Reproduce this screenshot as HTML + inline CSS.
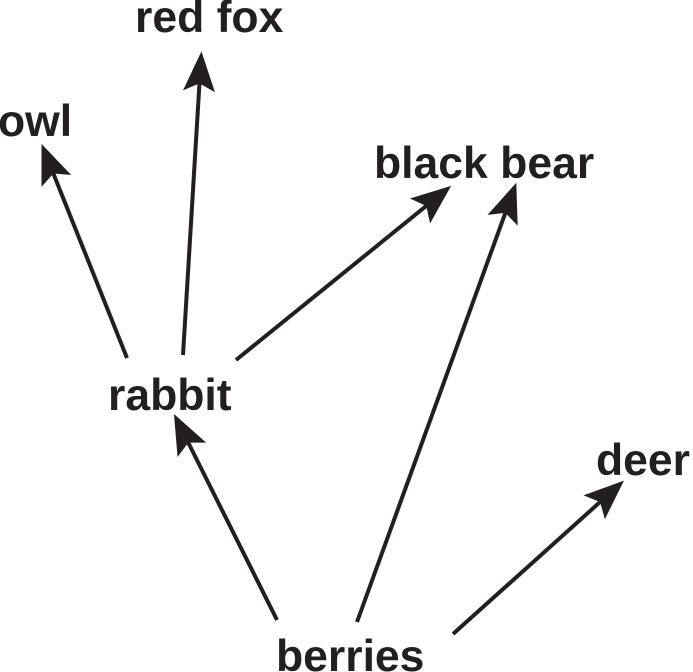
<!DOCTYPE html>
<html><head><style>
html,body{margin:0;padding:0;background:#fff;}
svg{display:block;}
text{font-family:"Liberation Sans",Arial,sans-serif;font-weight:bold;font-size:44.5px;fill:#231f20;}
</style></head><body>
<svg width="693" height="672" viewBox="0 0 693 672" xmlns="http://www.w3.org/2000/svg">
<defs>
<marker id="a" markerUnits="userSpaceOnUse" markerWidth="40" markerHeight="40" refX="10" refY="12" orient="auto" viewBox="0 0 30 24">
<path d="M0,0 L30,12 L0,24 L6,12 Z" fill="#231f20"/>
</marker>
</defs>
<g stroke="#231f20" stroke-width="4" marker-end="url(#a)">
<line x1="127" y1="358" x2="51.4" y2="168.6"/>
<line x1="183" y1="355" x2="199.8" y2="78"/>
<line x1="236" y1="360" x2="430.4" y2="202.6"/>
<line x1="277" y1="620" x2="185.9" y2="437.9"/>
<line x1="357" y1="622" x2="507.2" y2="207.8"/>
<line x1="453" y1="634" x2="604.1" y2="498.4"/>
</g>
<text x="135" y="32">red fox</text>
<text x="-2" y="136">owl</text>
<text x="374" y="178">black bear</text>
<text x="108" y="410">rabbit</text>
<text x="596" y="475">deer</text>
<text x="276" y="671">berries</text>
</svg>
</body></html>
